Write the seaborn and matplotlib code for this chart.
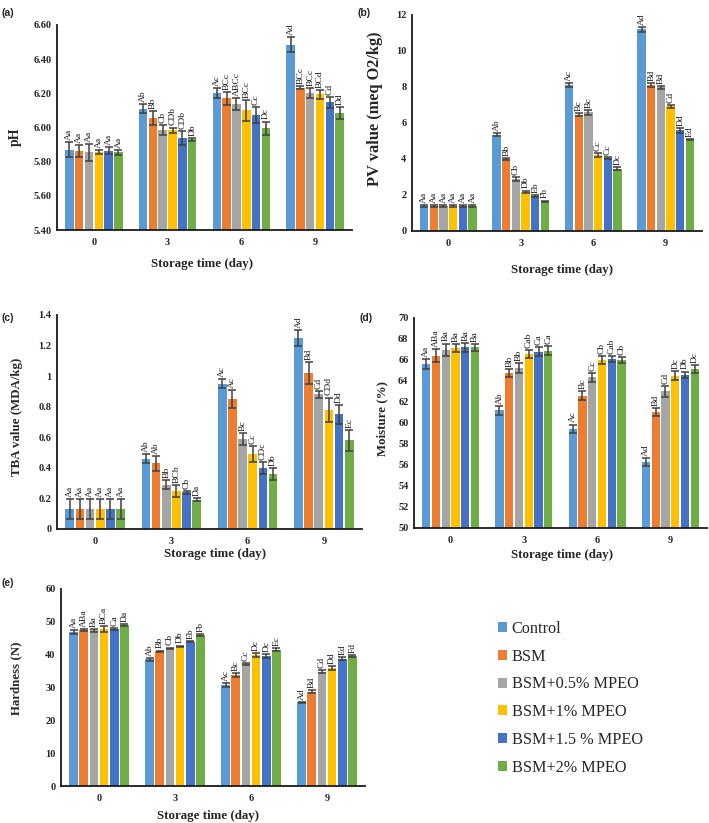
import numpy as np
import pandas as pd
import matplotlib
matplotlib.use("Agg")
import matplotlib.pyplot as plt
import seaborn as sns

sns.set_style("white")
plt.rcParams['font.family'] = ['Liberation Serif', 'DejaVu Serif']

days = ["0", "3", "6", "9"]
treatments = ["Control", "BSM", "BSM+0.5% MPEO", "BSM+1% MPEO", "BSM+1.5 % MPEO", "BSM+2% MPEO"]
colors = ["#5B9BD5", "#ED7D31", "#A5A5A5", "#FFC000", "#4472C4", "#70AD47"]

# rows = days, columns = treatments
ph_vals = [[5.87, 5.86, 5.855, 5.855, 5.865, 5.855],
           [6.11, 6.055, 5.985, 5.985, 5.94, 5.93],
           [6.20, 6.17, 6.135, 6.10, 6.073, 5.995],
           [6.485, 6.233, 6.20, 6.194, 6.147, 6.083]]
ph_err = [[0.045, 0.035, 0.05, 0.012, 0.022, 0.015],
          [0.028, 0.04, 0.03, 0.015, 0.04, 0.01],
          [0.03, 0.04, 0.035, 0.06, 0.045, 0.04],
          [0.045, 0.01, 0.03, 0.025, 0.03, 0.035]]
ph_lab = [["Aa"] * 6,
          ["Ab", "Bb", "Cb", "CDb", "CDb", "Db"],
          ["Ac", "BCc", "ABCc", "BCc", "Cc", "Dc"],
          ["Ad", "BCc", "BCc", "BCd", "Cd", "Dd"]]

pv_vals = [[1.38, 1.38, 1.38, 1.38, 1.38, 1.38],
           [5.35, 4.0, 2.88, 2.18, 1.95, 1.66],
           [8.12, 6.46, 6.59, 4.21, 4.06, 3.45],
           [11.2, 8.12, 7.99, 6.92, 5.59, 5.08]]
pv_err = [[0.07, 0.07, 0.07, 0.07, 0.07, 0.07],
          [0.08, 0.05, 0.12, 0.07, 0.04, 0.03],
          [0.1, 0.07, 0.15, 0.1, 0.07, 0.08],
          [0.12, 0.1, 0.08, 0.07, 0.12, 0.04]]
pv_lab = [["Aa"] * 6,
          ["Ab", "Bb", "Cb", "Db", "Eb", "Fb"],
          ["Ac", "Bc", "Bc", "Cc", "Cc", "Dc"],
          ["Ad", "Bd", "Bd", "Cd", "Dd", "Ed"]]

tba_vals = [[0.13, 0.13, 0.13, 0.13, 0.13, 0.13],
            [0.46, 0.43, 0.29, 0.25, 0.24, 0.19],
            [0.95, 0.85, 0.59, 0.49, 0.40, 0.36],
            [1.25, 1.02, 0.88, 0.78, 0.75, 0.58]]
tba_err = [[0.065, 0.065, 0.065, 0.065, 0.065, 0.065],
           [0.03, 0.05, 0.03, 0.04, 0.01, 0.01],
           [0.03, 0.06, 0.04, 0.05, 0.04, 0.04],
           [0.05, 0.07, 0.02, 0.08, 0.06, 0.07]]
tba_lab = [["Aa"] * 6,
           ["Ab", "Ab", "Bb", "BCb", "Cb", "Da"],
           ["Ac", "Ac", "Bc", "Cc", "CDc", "Db"],
           ["Ad", "Bd", "Cd", "CDd", "Dd", "Ec"]]

moist_vals = [[65.6, 66.4, 66.97, 67.13, 67.2, 67.2],
              [61.2, 64.75, 65.25, 66.56, 66.8, 66.88],
              [59.45, 62.6, 64.35, 66.0, 66.1, 65.98],
              [56.3, 61.05, 63.0, 64.52, 64.6, 65.13]]
moist_err = [[0.48, 0.6, 0.6, 0.4, 0.45, 0.35],
             [0.4, 0.35, 0.5, 0.4, 0.45, 0.45],
             [0.4, 0.45, 0.45, 0.35, 0.3, 0.3],
             [0.4, 0.35, 0.5, 0.4, 0.3, 0.35]]
moist_lab = [["Aa", "ABa", "Ba", "Ba", "Ba", "Ba"],
             ["Ab", "Bb", "Bb", "Cab", "Ca", "Ca"],
             ["Ac", "Bc", "Cc", "Cb", "Cab", "Cb"],
             ["Ad", "Bd", "Cd", "Dc", "Db", "Dc"]]

hard_vals = [[46.9, 47.4, 47.4, 47.8, 47.8, 49.0],
             [38.6, 41.05, 41.97, 42.58, 44.0, 45.9],
             [30.8, 33.8, 37.2, 39.9, 39.6, 41.5],
             [25.5, 28.7, 34.8, 36.0, 38.8, 39.5]]
hard_err = [[0.5, 0.3, 0.4, 1.0, 0.3, 0.3],
            [0.5, 0.2, 0.2, 0.2, 0.2, 0.3],
            [0.5, 0.6, 0.2, 0.6, 0.5, 0.4],
            [0.2, 0.4, 0.5, 0.6, 0.4, 0.3]]
hard_lab = [["Aa", "ABa", "Ba", "BCa", "Ca", "Da"],
            ["Ab", "Bb", "Cb", "Db", "Eb", "Fb"],
            ["Ac", "Bc", "Cc", "Dc", "Dc", "Ec"],
            ["Ad", "Bd", "Cd", "Dd", "Ed", "Fd"]]


def long_df(vals, errs, labs):
    rows = []
    for i, d in enumerate(days):
        for j, t in enumerate(treatments):
            rows.append({"day": d, "trt": t, "val": vals[i][j],
                         "err": errs[i][j], "lab": labs[i][j]})
    return pd.DataFrame(rows)


fig = plt.figure(figsize=(7.09, 8.23), dpi=100)

panels = [
    ("(a)", (57, 25, 352, 230), ph_vals, ph_err, ph_lab, "pH",
     (5.40, 6.60), np.arange(5.40, 6.61, 0.2), "{:.2f}", 10, (22, 137), (202, 258), (2, 8)),
    ("(b)", (412, 15, 702, 231), pv_vals, pv_err, pv_lab, "PV value (meq O2/kg)",
     (0, 12), np.arange(0, 13, 2), "{:.0f}", 11.8, (383, 109), (562, 264), (358, 8)),
    ("(c)", (57, 315, 362, 529), tba_vals, tba_err, tba_lab, "TBA value (MDA/kg)",
     (0, 1.4), np.arange(0, 1.41, 0.2), "g", 9.3, (23, 417), (215, 548), (2, 313)),
    ("(d)", (414, 318, 707, 528), moist_vals, moist_err, moist_lab, "Moisture (%)",
     (50, 70), np.arange(50, 71, 2), "{:.0f}", 9.3, (388, 419), (562, 549), (360, 313)),
    ("(e)", (61, 589, 365, 786), hard_vals, hard_err, hard_lab, "Hardness (N)",
     (0, 60), np.arange(0, 61, 10), "{:.0f}", 9.3, (22, 678), (208, 810), (2, 578)),
]

W, H = 709.0, 823.0
axes = []
for (letter, (l, t, r, b), vals, errs, labs, ylabel, ylim, ticks, fmt,
     ylsize, ylxy, xlxy, letxy) in panels:
    ax = fig.add_axes([l / W, 1 - b / H, (r - l) / W, (b - t) / H])
    axes.append(ax)
    df = long_df(vals, errs, labs)
    sns.barplot(data=df, x="day", y="val", hue="trt", order=days,
                hue_order=treatments, palette=colors, errorbar=None,
                saturation=1, width=0.8, gap=0.14, ax=ax, legend=True,
                linewidth=0)
    bar_conts = list(ax.containers)
    for j, cont in enumerate(bar_conts):
        sub = df[df["trt"] == treatments[j]].set_index("day").loc[days]
        for k, patch in enumerate(cont.patches):
            xc = patch.get_x() + patch.get_width() / 2
            v = sub["val"].iloc[k]
            e = sub["err"].iloc[k]
            ax.errorbar(xc, v, yerr=e, color="#404040", elinewidth=1.1,
                        capsize=2.6, capthick=1.1, zorder=5)
            ax.annotate(sub["lab"].iloc[k], xy=(xc, v + e), xytext=(0, 1.5),
                        textcoords="offset points", rotation=90,
                        ha="center", va="bottom", fontsize=6.8,
                        color="#1a1a1a")
    ax.set_ylim(*ylim)
    ax.set_xlim(-0.5, 3.5)
    ax.set_yticks(ticks)
    if fmt == "g":
        ax.set_yticklabels([f"{v:g}" for v in np.round(ticks, 1)])
    else:
        ax.set_yticklabels([fmt.format(v) for v in ticks])
    for lab in ax.get_yticklabels() + ax.get_xticklabels():
        lab.set_fontweight("bold")
        lab.set_fontsize(7.5)
    ax.tick_params(axis="both", length=0, pad=4)
    ax.tick_params(axis="x", pad=6)
    for s in ["top", "right"]:
        ax.spines[s].set_visible(False)
    for s in ["left", "bottom"]:
        ax.spines[s].set_color("#1a1a1a")
        ax.spines[s].set_linewidth(1.3)
    ax.set_ylabel(ylabel, fontsize=ylsize, fontweight="bold")
    ax.set_xlabel("Storage time (day)", fontsize=9.3, fontweight="bold")
    ax.yaxis.set_label_coords((ylxy[0] - l) / (r - l), (b - ylxy[1]) / (b - t))
    ax.xaxis.set_label_coords((xlxy[0] - l) / (r - l), (b - xlxy[1]) / (b - t))
    ax.get_legend().remove()
    fig.text(letxy[0] / W, 1 - letxy[1] / H, letter, fontsize=7.6,
             fontweight="bold", family=["Liberation Sans", "DejaVu Sans"],
             ha="left", va="top")

handles, labels_ = axes[0].get_legend_handles_labels()
fig.legend(handles, labels_, loc="upper left",
           bbox_to_anchor=(498 / W, 1 - 621 / H), frameon=False,
           fontsize=11.7, handlelength=0.55, handleheight=0.55,
           handletextpad=0.3, labelspacing=0.72, borderpad=0,
           borderaxespad=0)

fig.savefig("out.png", dpi=100)
